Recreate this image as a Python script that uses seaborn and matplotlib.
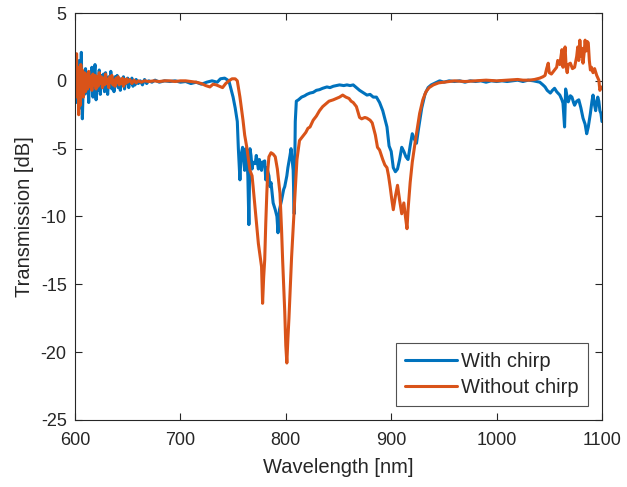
import matplotlib
matplotlib.use("Agg")
import matplotlib.pyplot as plt
import seaborn as sns
import pandas as pd

FIGNAME = "out.png"

# With chirp (blue) -- wavelength [nm], transmission [dB]
chirp_wl = [600, 600.5, 601, 602, 603, 604, 605, 606, 607, 608, 609, 610, 611, 612, 613, 614, 615, 616,
            617, 618, 619, 620, 621, 622, 623, 624, 625, 626, 627, 628, 629, 630, 631, 632, 633, 634,
            635, 636, 637, 638, 639, 640, 641, 642, 643, 644, 645, 646, 647, 648, 649, 650, 651, 652,
            653, 654, 655, 656, 657, 658, 660, 662, 664, 666, 668, 670, 673, 676, 680, 685, 690, 695,
            700, 705, 710, 715, 720, 725, 730, 735, 738, 742, 746, 748, 750, 752, 754, 755, 756.5,
            757.5, 759, 760, 761, 762, 763, 764, 765, 766, 767, 768, 769, 771, 772, 774, 775, 777,
            778, 780, 781, 782, 784, 785, 786, 788, 790, 791.6, 792.6, 794, 796, 798, 799, 801, 802,
            804, 805, 806, 807, 808, 809, 810, 812, 815, 818, 820, 823, 826, 829, 832, 835, 839, 842,
            845, 848, 851, 855, 858, 861, 864, 867, 870, 873, 877, 880, 883, 886, 889, 892, 894, 896,
            898, 900, 902, 904, 906, 908, 910, 912, 914, 916, 918, 920, 922, 924, 926, 929, 932, 935,
            938, 942, 946, 950, 955, 960, 965, 970, 975, 980, 985, 990, 995, 1000, 1005, 1010, 1015,
            1020, 1025, 1030, 1035, 1038, 1041, 1044, 1046, 1048, 1051, 1053, 1055, 1057, 1060, 1062,
            1063, 1064.5, 1065.5, 1067, 1068, 1070, 1071.5, 1073, 1074, 1076, 1078, 1080, 1082, 1084,
            1085.5, 1087, 1089, 1090.5, 1091.5, 1093, 1094, 1095, 1096, 1097, 1098, 1099, 1100]
chirp_db = [-0.8, 1.0, -1.6, 0.6, -0.4, 1.5, -2.0, 2.1, -2.8, 0.2, -1.0, 0.9, -0.9, 0.4, -1.6, 0.6, -0.5, 1.0,
            -1.2, 0.3, 1.2, -1.4, 0.2, -0.7, 0.8, -1.0, 0.4, -0.5, 0.5, -0.8, 0.6, -0.3, -1.0, 0.3, -0.4, 0.7,
            -0.6, 0.2, -0.8, 0.3, -0.3, 0.4, -0.5, 0.2, -0.7, 0.1, -0.3, 0.3, -0.6, 0.0, -0.2, 0.2, -0.5, 0.1,
            -0.2, 0.2, -0.4, -0.1, -0.3, 0.1, -0.2, 0.0, -0.3, 0.1, -0.2, 0.0, -0.1, 0.05, -0.1, 0.0, -0.05, 0.0,
            -0.1, -0.05, -0.2, -0.1, -0.25, -0.1, 0.0, -0.1, 0.15, 0.2, 0.0, -0.6, -1.2, -2.0, -3.0, -5.0, -7.3,
            -5.5, -4.9, -5.8, -6.6, -5.0, -5.5, -7.0, -10.6, -5.0, -5.5, -6.5, -6.0, -6.1, -5.5, -6.5, -5.8, -6.6,
            -6.0, -5.9, -7.3, -6.4, -7.0, -7.8, -7.5, -9.0, -9.5, -10.0, -11.2, -9.5, -8.8, -8.0, -7.8, -7.0, -6.4,
            -5.5, -5.0, -5.8, -6.6, -9.8, -3.0, -1.5, -1.4, -1.2, -1.1, -1.0, -0.9, -0.85, -0.7, -0.65, -0.55, -0.45, -0.5,
            -0.4, -0.35, -0.3, -0.35, -0.3, -0.35, -0.3, -0.5, -0.7, -0.85, -1.05, -1.0, -1.2, -1.2, -1.6, -2.2, -2.8, -3.4,
            -4.8, -5.2, -6.4, -6.7, -6.5, -5.8, -4.9, -5.2, -5.6, -5.8, -4.8, -3.9, -4.3, -4.6, -3.5, -2.0, -1.0, -0.5,
            -0.3, -0.15, 0.0, -0.1, 0.0, -0.05, 0.0, -0.1, 0.0, -0.05, 0.0, -0.1, 0.0, -0.05, 0.0, -0.05, 0.0,
            0.05, -0.05, 0.05, 0.0, -0.05, -0.1, -0.3, -0.45, -0.7, -0.9, -0.7, -0.55, -0.8, -1.05, -1.4,
            -1.65, -3.4, -0.6, -1.2, -1.55, -1.1, -1.2, -1.6, -1.8, -1.5, -1.4, -2.0, -2.75, -3.2,
            -3.9, -3.4, -2.4, -1.5, -1.05, -1.8, -2.2, -1.6, -1.2, -1.5, -2.2, -2.4, -3.0]

# Without chirp (orange)
nochirp_wl = [600, 600.5, 601, 601.5, 602, 603, 603.5, 604, 605, 605.5, 606, 607, 608, 609, 610, 611, 612,
              613, 614, 615, 616, 617, 618, 619, 620, 621, 622, 623, 624, 625, 626, 627, 628, 629, 630,
              631, 632, 633, 634, 635, 636, 637, 638, 639, 640, 641, 642, 643, 644, 645, 646, 647, 648,
              649, 650, 652, 654, 656, 658, 660, 663, 666, 670, 675, 680, 685, 690, 695, 700, 705, 710,
              715, 720, 724, 728, 731, 734, 737, 740, 743, 746, 749, 752, 754, 756.5, 759.4, 761, 763,
              766, 768, 769, 771, 774, 777, 778, 779, 780, 781, 782, 783, 784, 786, 788, 790, 792, 794.5,
              796, 797, 799, 800, 801, 802, 803, 804, 805.5, 807, 809, 810.6, 813, 816, 819, 821, 823,
              826, 829, 832, 835, 838, 841, 845, 848, 851, 854, 857, 860, 862, 864, 867, 870, 872, 875,
              877, 880, 882, 885, 887, 889, 892, 894, 896, 897.5, 899, 900.5, 902, 904, 906, 908, 910,
              912, 913.5, 915, 916, 918, 920, 922.6, 925, 927, 930, 933, 936, 940, 945, 950, 960, 970,
              980, 990, 1000, 1010, 1020, 1025, 1031, 1036, 1041, 1044, 1046, 1047.5, 1049, 1050, 1052,
              1055, 1057, 1058, 1060, 1062, 1063, 1064, 1065, 1066, 1067, 1068, 1070, 1072, 1074, 1076,
              1077, 1078, 1079, 1080, 1081, 1082, 1083, 1084, 1085, 1086, 1087, 1088, 1089, 1090, 1091.5,
              1093, 1095, 1097, 1098, 1099, 1100]
nochirp_db = [0.3, 1.8, -0.5, 2.0, -1.2, 1.0, -2.5, 0.6, -1.8, 1.2, -1.0, 0.8, -1.2, 0.6, -0.8, 0.5, -0.6,
              0.7, -0.4, 0.3, -0.7, 0.5, -0.3, 0.4, -0.6, 0.3, -0.4, 0.6, -0.2, 0.3, -0.5, 0.2, -0.3, 0.5, -0.2,
              0.1, -0.5, 0.3, -0.1, 0.4, -0.3, 0.0, -0.4, 0.2, -0.1, 0.3, -0.3, 0.1, -0.2, 0.2, -0.4, 0.1, -0.2,
              0.15, -0.1, 0.1, -0.2, 0.05, -0.15, 0.0, -0.1, 0.0, -0.05, 0.0, -0.05, 0.0, 0.0, -0.05, 0.0, 0.0, -0.05,
              -0.1, -0.2, -0.35, -0.45, -0.25, -0.3, -0.4, -0.5, -0.2, 0.0, 0.15, 0.15, 0.0, -1.2, -2.9, -4.0, -4.9,
              -6.6, -7.0, -7.8, -9.5, -12.0, -13.7, -16.4, -14.5, -13.2, -10.5, -8.3, -6.5, -5.6, -5.3, -5.4, -5.6, -6.5, -8.3,
              -11.0, -13.2, -17.0, -19.5, -20.8, -19.0, -17.5, -15.7, -13.0, -10.8, -8.0, -5.8, -4.4, -4.1, -3.8, -3.5, -3.4,
              -2.9, -2.6, -2.2, -1.9, -1.7, -1.5, -1.4, -1.3, -1.2, -1.05, -1.2, -1.3, -1.5, -1.6, -1.9, -2.7, -2.8, -2.7,
              -2.75, -2.9, -3.1, -4.0, -4.9, -5.1, -5.8, -6.2, -6.4, -7.0, -7.8, -8.7, -9.5, -8.5, -7.7, -8.8, -9.8,
              -9.0, -10.0, -10.9, -9.5, -7.5, -6.0, -4.6, -3.4, -2.4, -1.4, -0.8, -0.5, -0.3, -0.15, -0.1, 0.0, -0.05,
              0.0, 0.05, 0.0, 0.05, 0.1, 0.05, 0.05, 0.1, 0.2, 0.3, 0.4, 0.9, 1.3, 0.6, 0.5,
              0.8, 1.0, 1.5, 1.2, 2.3, 1.0, 1.8, 2.5, 1.0, 0.6, 1.2, 1.3, 0.9, 1.0, 1.8,
              2.5, 1.5, 3.0, 1.8, 2.4, 1.3, 2.0, 3.0, 2.2, 2.9, 2.8, 1.5, 0.8, 1.0, 0.6,
              0.9, 0.4, 0.05, -0.7, -0.5, -0.45]

BLUE = "#0072BD"
ORANGE = "#D95319"

sns.set_theme(style="ticks")
plt.rcParams['font.family'] = ['Liberation Sans', 'DejaVu Sans']
plt.rcParams['axes.unicode_minus'] = False
plt.rcParams['xtick.direction'] = 'in'
plt.rcParams['ytick.direction'] = 'in'

fig = plt.figure(figsize=(6.27, 4.87), dpi=100)
ax = fig.add_axes([0.1196, 0.1376, 0.8405, 0.8357])

dfc = pd.DataFrame({'wl': chirp_wl, 'db': chirp_db})
dfn = pd.DataFrame({'wl': nochirp_wl, 'db': nochirp_db})
sns.lineplot(data=dfc, x='wl', y='db', ax=ax, color=BLUE, linewidth=2.2,
             estimator=None, sort=False, label='With chirp')
sns.lineplot(data=dfn, x='wl', y='db', ax=ax, color=ORANGE, linewidth=2.2,
             estimator=None, sort=False, label='Without chirp')

ax.set_xlim(600, 1100)
ax.set_ylim(-25, 5)
ax.set_xticks(range(600, 1101, 100))
ax.set_yticks(range(-25, 6, 5))
ax.tick_params(axis='both', which='both', top=True, right=True, length=5,
               width=0.8, color='#262626', labelsize=13, labelcolor='#262626')
ax.tick_params(axis='x', pad=9)
ax.tick_params(axis='y', pad=6)
for sp in ax.spines.values():
    sp.set_visible(True)
    sp.set_color('#262626')
    sp.set_linewidth(0.8)

ax.set_xlabel('Wavelength [nm]', fontsize=14.5, color='#262626', labelpad=6)
ax.set_ylabel('Transmission [dB]', fontsize=14.5, color='#262626', labelpad=5)

leg = ax.legend(loc='lower right', fontsize=14.5, frameon=True, fancybox=False,
                edgecolor='#262626', handlelength=2.6, borderaxespad=0.7,
                handletextpad=0.2, labelspacing=0.35, borderpad=0.45)
leg.get_frame().set_linewidth(0.8)

plt.savefig(FIGNAME, dpi=100)
